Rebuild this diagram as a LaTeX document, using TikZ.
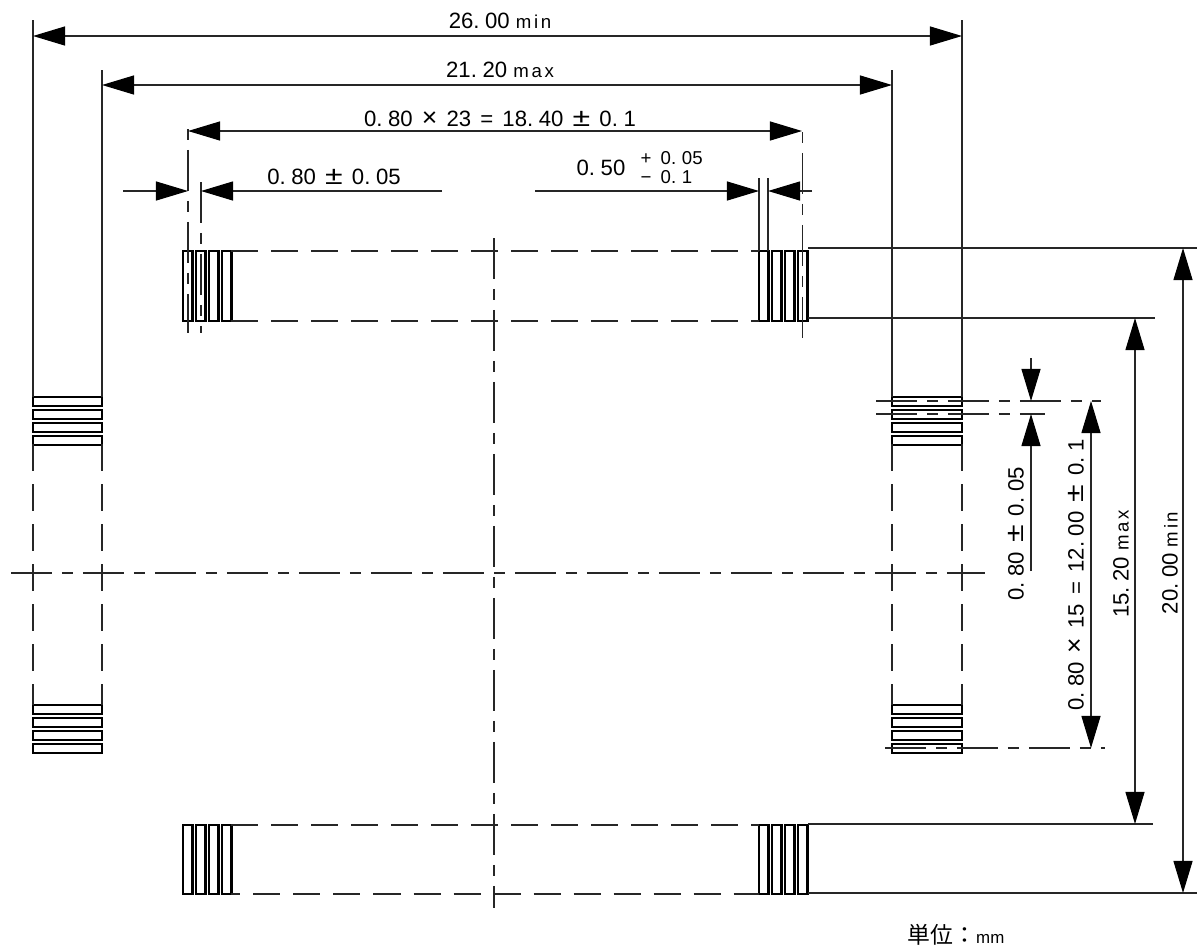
\documentclass[tikz,border=0pt]{standalone}
\usepackage{fontspec}
\setmainfont{Liberation Sans}
\newfontfamily\jpfont{Noto Sans CJK JP}
\usepackage{xcolor}
\usetikzlibrary{arrows.meta}
\usetikzlibrary{calc}
\newcommand{\pd}{.\kern1.6pt\relax}
\newcommand{\gap}{\kern2.6pt\relax}
\newcommand{\plmn}{\scalebox{1.45}[1.15]{±}}
\newcommand{\tms}{\scalebox{1.2}{×}}
\newcommand{\unitsize}{\fontsize{5.3pt}{6pt}\selectfont\addfontfeature{LetterSpace=14}}
\tikzset{
  pad/.style={draw=black, line width=0.7pt},
  thinline/.style={black!85, line width=0.33pt},
  hiddenline/.style={thinline, dash pattern=on 7.68pt off 3.7pt},
  centerline/.style={thinline, dash pattern=on 11.66pt off 2.84pt on 3.13pt off 2.84pt},
  dimtip/.tip={Triangle[length=0.32cm,width=0.19cm,color=black]},
  dimline/.style={thinline, -dimtip},
  dimboth/.style={thinline, dimtip-dimtip},
  dimtext/.style={inner sep=0pt, font=\fontsize{6.3pt}{7pt}\selectfont},
  smalltext/.style={inner sep=0pt, font=\fontsize{5.3pt}{6pt}\selectfont},
}
\begin{document}
\begin{tikzpicture}[x=0.01cm,y=-0.01cm]
\useasboundingbox (0,0) rectangle (1200,948);

%%%%%%%%%%%%%%%%%%%%%%%%%%%%%%%%%%%%%%%%%%%%%%%%%%%%%%%%%%%%%% Pads
\foreach \y in {397,410,423,436,705,718,731,744}{
  \draw[pad] (33,\y) rectangle (102,\y+9);
  \draw[pad] (892,\y) rectangle (962,\y+9);
}
\foreach \x in {183,196,209,222,759,772,785,798}{
  \draw[pad] (\x,251) rectangle (\x+9.5,321);
  \draw[pad] (\x,825) rectangle (\x+9.5,894);
}

%%%%%%%%%%%%%%%%%%%%%%%%%%%%%%%%%%%%%%%%%%%%%%%%%%%%%%%%%%%%%% Center lines
\draw[centerline] (494,238) -- (494,908);
\draw[centerline] (11,573) -- (985,573);
\draw[centerline, dash phase=14.5pt] (188,129) -- (188,333);
\draw[centerline] (201,182) -- (201,333);
\draw[centerline, dash phase=14.5pt] (802.5,132) -- (802.5,338);
\draw[centerline] (876,401) -- (1101,401);
\draw[centerline] (876,414) -- (1045,414);
\draw[centerline] (885,748) -- (1105,748);

%%%%%%%%%%%%%%%%%%%%%%%%%%%%%%%%%%%%%%%%%%%%%%%%%%%%%%%%%%%%%% Hidden lines
\draw[hiddenline] (231,251) -- (759,251);
\draw[hiddenline] (231,321) -- (759,321);
\draw[hiddenline] (231,825) -- (759,825);
\draw[hiddenline, dash phase=5pt] (231,894) -- (759,894);
\draw[hiddenline] (33,444) -- (33,705);
\draw[hiddenline] (102,444) -- (102,705);
\draw[hiddenline] (892,444) -- (892,705);
\draw[hiddenline] (962,444) -- (962,705);

%%%%%%%%%%%%%%%%%%%%%%%%%%%%%%%%%%%%%%%%%%%%%%%%%%%%%%%%%%%%%% Extension lines
\draw[thinline] (33,20) -- (33,397);
\draw[thinline] (962,20) -- (962,397);
\draw[thinline] (102,70) -- (102,397);
\draw[thinline] (892,70) -- (892,397);
\draw[thinline] (759,178) -- (759,251);
\draw[thinline] (768,178) -- (768,251);
\draw[thinline] (808,248) -- (1197,248);
\draw[thinline] (808,318) -- (1155,318);
\draw[thinline] (808,824) -- (1153,824);
\draw[thinline] (808,893) -- (1197,893);

%%%%%%%%%%%%%%%%%%%%%%%%%%%%%%%%%%%%%%%%%%%%%%%%%%%%%%%%%%%%%% Dimensions
\coordinate (widthL) at (33,36);
\coordinate (widthR) at (962,36);
\draw[dimboth] (widthL) -- (widthR);
\coordinate (bodyL) at (102,85);
\coordinate (bodyR) at (892,85);
\draw[dimboth] (bodyL) -- (bodyR);
\coordinate (pitchL) at (188,131);
\coordinate (pitchR) at (802,131);
\draw[dimboth] (pitchL) -- (pitchR);

\coordinate (tipA) at (188,191);
\coordinate (tailA) at (123,191);
\coordinate (tipB) at (201,191);
\coordinate (tailB) at (442,191);
\draw[dimline] (tailA) -- (tipA);
\draw[dimline] (tailB) -- (tipB);
\coordinate (tipC) at (759,191);
\coordinate (tailC) at (535,191);
\coordinate (tipD) at (768,191);
\coordinate (tailD) at (812,191);
\draw[dimline] (tailC) -- (tipC);
\draw[dimline] (tailD) -- (tipD);

\coordinate (tipE) at (1031,401);
\coordinate (tailE) at (1031,358);
\coordinate (tipF) at (1031,414);
\coordinate (tailF) at (1031,571);
\draw[dimline] (tailE) -- (tipE);
\draw[dimline] (tailF) -- (tipF);

\coordinate (rowT) at (1091,401);
\coordinate (rowB) at (1091,748);
\draw[dimboth] (rowT) -- (rowB);
\coordinate (spanT) at (1135,318);
\coordinate (spanB) at (1135,824);
\draw[dimboth] (spanT) -- (spanB);
\coordinate (outerT) at (1183,248);
\coordinate (outerB) at (1183,893);
\draw[dimboth] (outerT) -- (outerB);

%%%%%%%%%%%%%%%%%%%%%%%%%%%%%%%%%%%%%%%%%%%%%%%%%%%%%%%%%%%%%% Labels
\node[dimtext] (labelwidth) at (500,21) {26\pd 00 {\unitsize min}};
\node[dimtext] (labelbody) at (500,70) {21\pd 20 {\unitsize max}};
\node[dimtext] (labelpitch) at (500,119) {0\pd 80\gap \tms\gap 23\gap =\gap 18\pd 40\gap \plmn\gap 0\pd 1};
\node[dimtext] (labelpad) at (334,177) {0\pd 80\gap \plmn\gap 0\pd 05};
\node[dimtext] (labelgap) at (601,168) {0\pd 50};
\node[smalltext, anchor=west] (labelplus) at (640,158) {+\gap 0\pd 05};
\node[smalltext, anchor=west] (labelminus) at (640,177) {−\gap 0\pd 1};
\node[dimtext, rotate=90] (labelside) at (1016,534) {0\pd 80\gap \plmn\gap 0\pd 05};
\node[dimtext, rotate=90] (labelrow) at (1076,575) {0\pd 80\gap \tms\gap 15\gap =\gap 12\pd 00\gap \plmn\gap 0\pd 1};
\node[dimtext, rotate=90] (labelspan) at (1121,564) {15\pd 20 {\unitsize max}};
\node[dimtext, rotate=90] (labelouter) at (1170,563) {20\pd 00 {\unitsize min}};
\node[inner sep=0pt, font=\fontsize{6.5pt}{7pt}\selectfont] (labelunit) at (956,935) {{\jpfont 単位：}{\fontsize{4.8pt}{6pt}\selectfont mm}};
\end{tikzpicture}
\end{document}
